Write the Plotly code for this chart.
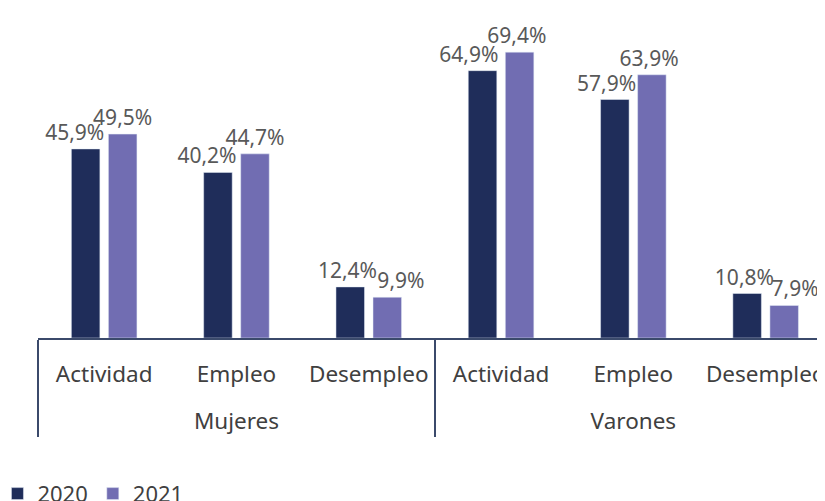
import plotly.graph_objects as go

# Datos (tasas en %)
grupos = ["Mujeres", "Mujeres", "Mujeres", "Varones", "Varones", "Varones"]
indicadores = ["Actividad", "Empleo", "Desempleo", "Actividad", "Empleo", "Desempleo"]
valores_2020 = [45.9, 40.2, 12.4, 64.9, 57.9, 10.8]
valores_2021 = [49.5, 44.7, 9.9, 69.4, 63.9, 7.9]

COLOR_2020 = "#1f2d5a"
COLOR_2021 = "#716db2"
FUENTE = "Noto Sans"
NBSP = "\u00a0"

# desplazamiento horizontal de las etiquetas (nº de espacios: <0 izquierda, >0 derecha)
ajuste_2020 = [-4, -4, -1, -5, -3, -1]
ajuste_2021 = [0, 0, 5, -1, -1, 4]


def etiqueta(v, n):
    txt = f"{v:.1f}".replace(".", ",") + "%"
    if n > 0:
        return NBSP * n + txt
    return txt + NBSP * (-n)


eje_x = [["<br>" + g for g in grupos], indicadores]

fig = go.Figure()
fig.add_trace(go.Bar(
    name="2020",
    x=eje_x,
    y=valores_2020,
    marker_color=COLOR_2020,
    text=[etiqueta(v, n) for v, n in zip(valores_2020, ajuste_2020)],
    textposition="outside",
    constraintext="none",
    cliponaxis=False,
    textfont=dict(family=FUENTE, size=21, color="#595959"),
))
fig.add_trace(go.Bar(
    name="2021",
    x=eje_x,
    y=valores_2021,
    marker_color=COLOR_2021,
    text=[etiqueta(v, n) for v, n in zip(valores_2021, ajuste_2021)],
    textposition="outside",
    constraintext="none",
    cliponaxis=False,
    textfont=dict(family=FUENTE, size=21, color="#595959"),
))

fig.update_layout(
    width=825,
    height=501,
    barmode="group",
    bargap=0.44,
    bargroupgap=0.23,
    plot_bgcolor="white",
    paper_bgcolor="white",
    margin=dict(l=30, r=0, t=12, b=171, autoexpand=False),
    font=dict(family=FUENTE, size=22, color="#404040"),
    showlegend=True,
    legend=dict(
        orientation="h",
        x=-0.051, y=-0.556,
        xanchor="left", yanchor="bottom",
        font=dict(size=22, color="#404040"),
        itemwidth=30,
    ),
    xaxis=dict(
        type="multicategory",
        range=[-0.5, 5.509],
        showline=True,
        linecolor="#3b4a6b",
        linewidth=1.5,
        showdividers=True,
        dividercolor="#3b4a6b",
        dividerwidth=1.5,
        ticks="",
        ticklabelstandoff=15,
        tickfont=dict(size=22.5, color="#404040"),
    ),
    yaxis=dict(
        range=[0, 77.2],
        visible=False,
        showgrid=False,
    ),
)

fig.write_html("out.html")
